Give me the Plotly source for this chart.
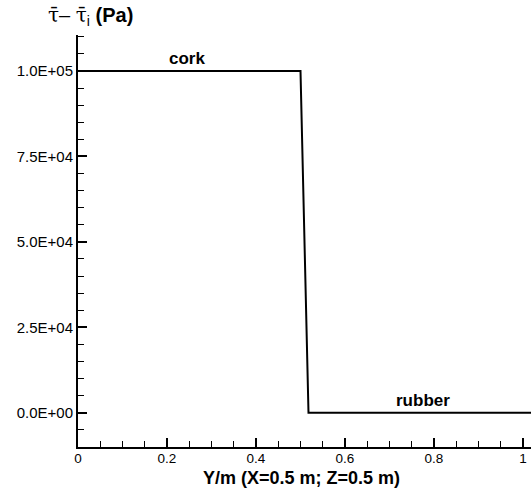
import plotly.graph_objects as go

# Shear stress difference profile along Y at X=0.5 m, Z=0.5 m
y_pos = [0.0, 0.5, 0.518, 1.02]
tau_diff = [1.0e5, 1.0e5, 0.0, 0.0]

x_tick_vals = [0, 0.2, 0.4, 0.6, 0.8, 1.0]
x_tick_text = ["0", "0.2", "0.4", "0.6", "0.8", "1"]
y_tick_vals = [0.0, 2.5e4, 5.0e4, 7.5e4, 1.0e5]
y_tick_text = ["0.0E+00", "2.5E+04", "5.0E+04", "7.5E+04", "1.0E+05"]

material_labels = ["cork", "rubber"]
material_x = [0.245, 0.776]
material_y = [1.036e5, 3.5e3]

font_main = "Liberation Sans, Arial, Helvetica, sans-serif"

W, H = 531, 494
ml, mr, mt, mb = 78, 0, 35, 47
pw, ph = W - ml - mr, H - mt - mb


def px_to_paper(xp, yp):
    return (xp - ml) / pw, 1 - (yp - mt) / ph


fig = go.Figure()
fig.add_trace(go.Scatter(
    x=y_pos, y=tau_diff, mode="lines",
    line=dict(color="black", width=2),
    hoverinfo="skip", showlegend=False,
))

for txt, xv, yv in zip(material_labels, material_x, material_y):
    fig.add_annotation(
        x=xv, y=yv, xref="x", yref="y", text=f"<b>{txt}</b>",
        showarrow=False, yanchor="middle", xanchor="center",
        font=dict(family=font_main, size=17, color="black"),
    )

# Axis titles
bx, by = px_to_paper(301, 478)
fig.add_annotation(
    x=bx, y=by, xref="paper", yref="paper",
    text="<b>Y/m (X=0.5 m; Z=0.5 m)</b>", showarrow=False,
    xanchor="center", yanchor="middle",
    font=dict(family=font_main, size=18, color="black"),
)
tx, ty = px_to_paper(90, 16)
tau_bar = '<span style="font-family:DejaVu Serif">\u03c4\u0304</span>'
fig.add_annotation(
    x=tx, y=ty, xref="paper", yref="paper",
    text=f"{tau_bar}\u2013 {tau_bar}<sub>i</sub> <b>(Pa)</b>", showarrow=False,
    xanchor="center", yanchor="middle",
    font=dict(family=font_main, size=20, color="black"),
)

fig.update_xaxes(
    range=[0, 1.018], tickvals=x_tick_vals, ticktext=x_tick_text,
    ticks="inside", ticklen=9, tickwidth=2, tickcolor="black",
    showline=True, linecolor="black", linewidth=2,
    showgrid=False, zeroline=False, ticklabelstandoff=-2,
    tickfont=dict(family=font_main, size=13.5, color="black"),
    minor=dict(dtick=0.05, tick0=0, ticks="inside", ticklen=6, tickwidth=1, tickcolor="black"),
)
fig.update_yaxes(
    range=[-1.0e4, 1.105e5], tickvals=y_tick_vals, ticktext=y_tick_text,
    ticks="inside", ticklen=9, tickwidth=2, tickcolor="black",
    showline=True, linecolor="black", linewidth=2,
    showgrid=False, zeroline=False,
    tickfont=dict(family=font_main, size=15, color="black"),
    minor=dict(dtick=5000, tick0=0, ticks="inside", ticklen=6, tickwidth=1, tickcolor="black"),
)

fig.update_layout(
    width=W, height=H,
    margin=dict(l=ml, r=mr, t=mt, b=mb),
    plot_bgcolor="white", paper_bgcolor="white",
)

fig.write_html("out.html")
